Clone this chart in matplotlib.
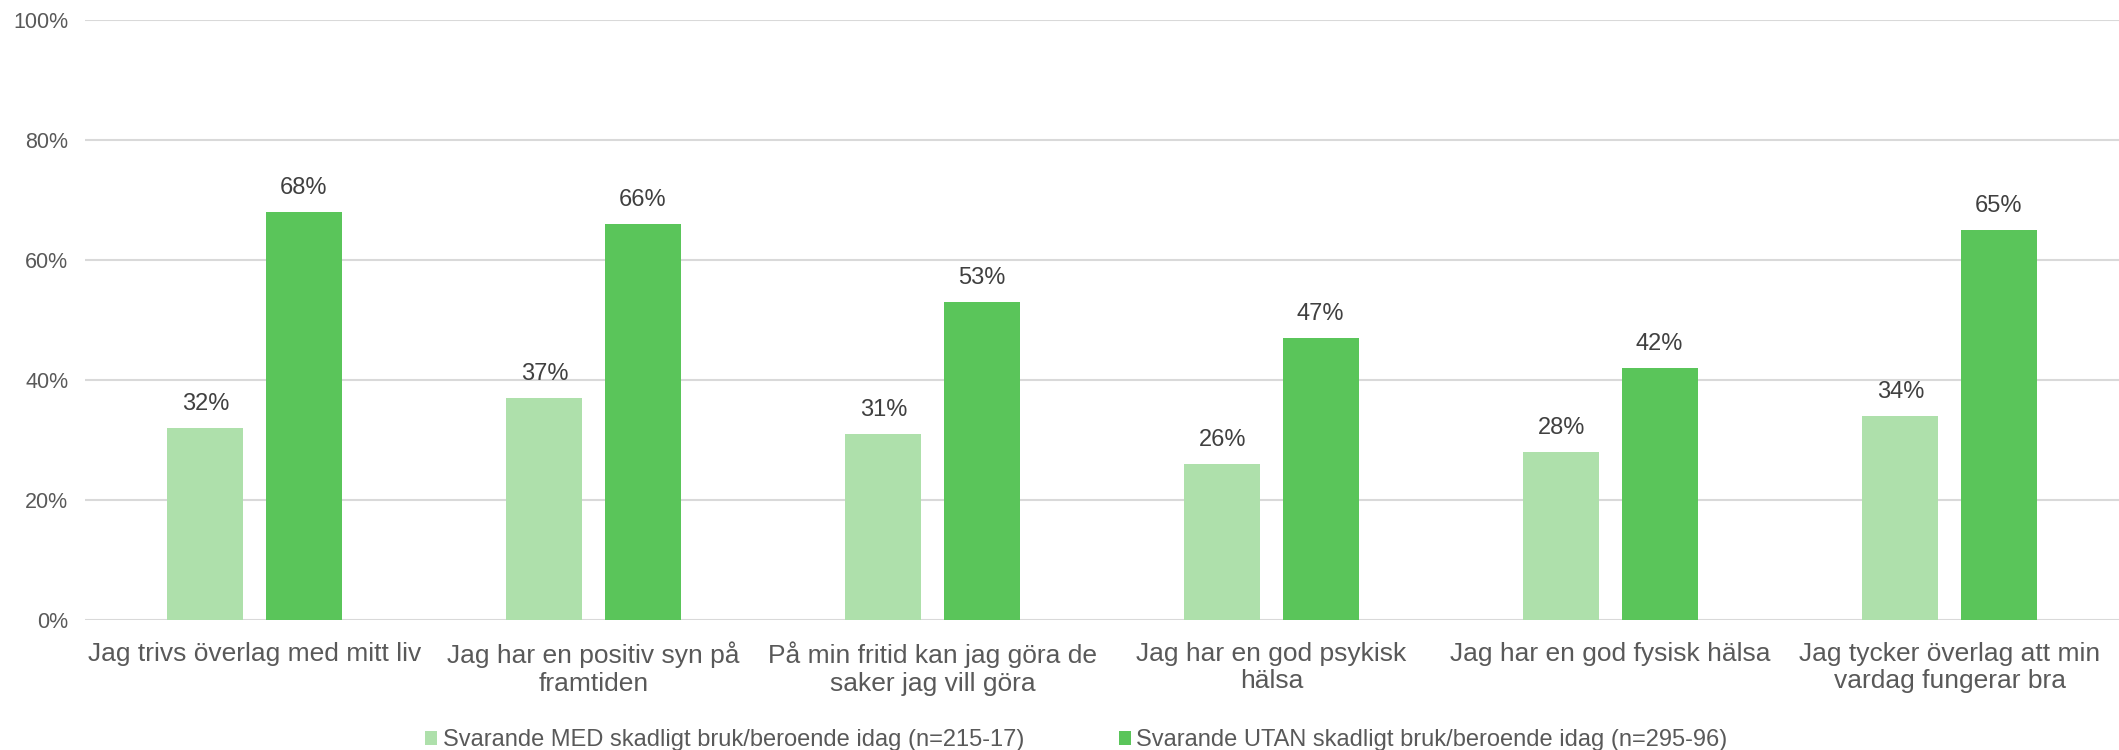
import matplotlib
matplotlib.use("Agg")
import matplotlib.pyplot as plt
import numpy as np

categories = [
    "Jag trivs överlag med mitt liv",
    "Jag har en positiv syn på\nframtiden",
    "På min fritid kan jag göra de\nsaker jag vill göra",
    "Jag har en god psykisk\nhälsa",
    "Jag har en god fysisk hälsa",
    "Jag tycker överlag att min\nvardag fungerar bra",
]
med_values = [32, 37, 31, 26, 28, 34]
utan_values = [68, 66, 53, 47, 42, 65]
series_names = [
    "Svarande MED skadligt bruk/beroende idag (n=215-17)",
    "Svarande UTAN skadligt bruk/beroende idag (n=295-96)",
]
yticks = [0, 20, 40, 60, 80, 100]

plt.rcParams['font.family'] = ['Liberation Sans', 'DejaVu Sans']

fig = plt.figure(figsize=(21.19, 7.5), dpi=100)
ax = fig.add_axes([85 / 2119, 130 / 750, 1 - 85 / 2119, 600 / 750])

x = np.arange(len(categories))
w = 0.224
off = 0.145
c_light = "#AEE0AB"
c_dark = "#5AC55A"
b1 = ax.bar(x - off, med_values, w, color=c_light, label=series_names[0], zorder=3)
b2 = ax.bar(x + off, utan_values, w, color=c_dark, label=series_names[1], zorder=3)

for bars, vals in ((b1, med_values), (b2, utan_values)):
    for b, v in zip(bars, vals):
        ax.annotate(f"{v}%", (b.get_x() + b.get_width() / 2, v),
                    xytext=(0, 9), textcoords="offset points",
                    ha="center", va="bottom", fontsize=17, color="#404040")

ax.set_xlim(-0.5, len(categories) - 0.5)
ax.set_ylim(0, 100)
ax.set_yticks(yticks)
ax.set_yticklabels([f"{t}%" for t in yticks], fontsize=15.5, color="#595959")
ax.set_xticks(x)
ax.set_xticklabels(categories, fontsize=19, color="#595959", linespacing=1.18)
ax.tick_params(axis="both", length=0)
ax.tick_params(axis="x", pad=15.5)
ax.tick_params(axis="y", pad=12)
ax.grid(axis="y", color="#D9D9D9", linewidth=1.5, zorder=0)
for s in ax.spines.values():
    s.set_visible(False)

leg = fig.legend(handles=[b1, b2], labels=series_names, loc="center",
                 bbox_to_anchor=(0.508, 0.013), ncol=2, frameon=False,
                 fontsize=17, labelcolor="#595959", handlelength=0.5,
                 handleheight=0.5, handletextpad=0.25, columnspacing=4.0,
                 borderpad=0, borderaxespad=0)

fig.savefig("out.png", dpi=100, facecolor="white")
